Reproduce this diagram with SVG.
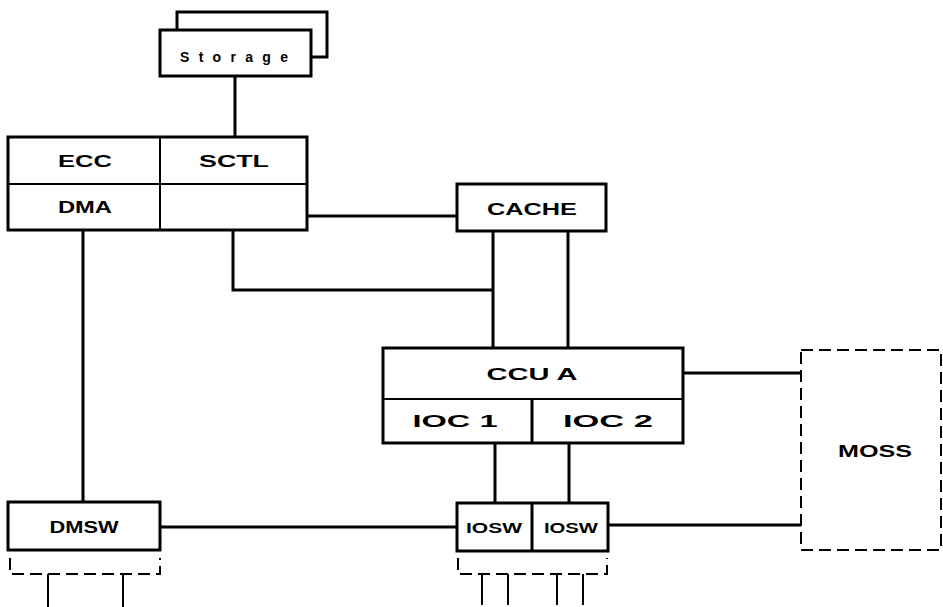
<svg xmlns="http://www.w3.org/2000/svg" width="943" height="607" viewBox="0 0 943 607">
<style>
.box{fill:#fff;stroke:#000;stroke-width:3}
.ln{fill:none;stroke:#000;stroke-width:3}
.thin{fill:none;stroke:#000;stroke-width:2}
.dash{fill:none;stroke:#000;stroke-width:2;stroke-dasharray:12 6}
.t{font-family:"Liberation Sans",Arial,sans-serif;font-weight:bold;font-size:17px;text-anchor:middle;fill:#000}
.s{font-size:14px}
</style>
<rect width="943" height="607" fill="#fff"/>
<g id="connectors">
<path class="ln" d="M235,76V137"/>
<path class="ln" d="M307,216H457"/>
<path class="ln" d="M233,230V290H493"/>
<path class="ln" d="M493,231V348"/>
<path class="ln" d="M568,231V348"/>
<path class="ln" d="M83,230V502"/>
<path class="ln" d="M683,373H801"/>
<path class="ln" d="M495,443V503"/>
<path class="ln" d="M569,443V503"/>
<path class="ln" d="M160,527H457"/>
<path class="ln" d="M608,525H801"/>
</g>
<g id="storage">
<rect class="box" x="177" y="12" width="150" height="45"/>
<rect class="box" x="160" y="30" width="151" height="46"/>
<text class="t s" x="234" y="62" textLength="108" lengthAdjust="spacing">Storage</text>
</g>
<g id="ecc-sctl">
<rect class="box" x="8" y="137" width="299" height="93"/>
<path class="thin" d="M8,184H307M160,137V230"/>
<text class="t" x="85" y="167" textLength="54" lengthAdjust="spacingAndGlyphs">ECC</text>
<text class="t" x="234" y="167" textLength="70" lengthAdjust="spacingAndGlyphs">SCTL</text>
<text class="t" x="85" y="213" textLength="54" lengthAdjust="spacingAndGlyphs">DMA</text>
</g>
<g id="cache">
<rect class="box" x="457" y="184" width="149" height="47"/>
<text class="t" x="532" y="215" textLength="90" lengthAdjust="spacingAndGlyphs">CACHE</text>
</g>
<g id="ccu">
<rect class="box" x="383" y="348" width="300" height="95"/>
<path class="thin" d="M383,399H683"/>
<path class="ln" d="M532,399V443"/>
<text class="t" x="532" y="380" textLength="91" lengthAdjust="spacingAndGlyphs">CCU A</text>
<text class="t" x="455" y="427" textLength="85" lengthAdjust="spacingAndGlyphs">IOC 1</text>
<text class="t" x="608" y="427" textLength="90" lengthAdjust="spacingAndGlyphs">IOC 2</text>
</g>
<g id="dmsw">
<rect class="box" x="8" y="502" width="152" height="48"/>
<text class="t" x="84" y="533" textLength="69" lengthAdjust="spacingAndGlyphs">DMSW</text>
<path class="dash" d="M10,558V574H160V558"/>
<path class="thin" d="M48,574V607M123,574V607"/>
</g>
<g id="iosw">
<rect class="box" x="457" y="503" width="151" height="48"/>
<path class="ln" d="M532,503V551"/>
<text class="t s" x="494" y="533" textLength="56" lengthAdjust="spacingAndGlyphs">IOSW</text>
<text class="t s" x="571" y="533" textLength="54" lengthAdjust="spacingAndGlyphs">IOSW</text>
<path class="dash" d="M458,558V574H607V558"/>
<path class="thin" d="M482,574V605M508,574V605M557,574V605M583,574V605"/>
</g>
<g id="moss">
<rect class="dash" x="801" y="350" width="140" height="200"/>
<text class="t" x="875" y="457" textLength="74" lengthAdjust="spacingAndGlyphs">MOSS</text>
</g>
</svg>
